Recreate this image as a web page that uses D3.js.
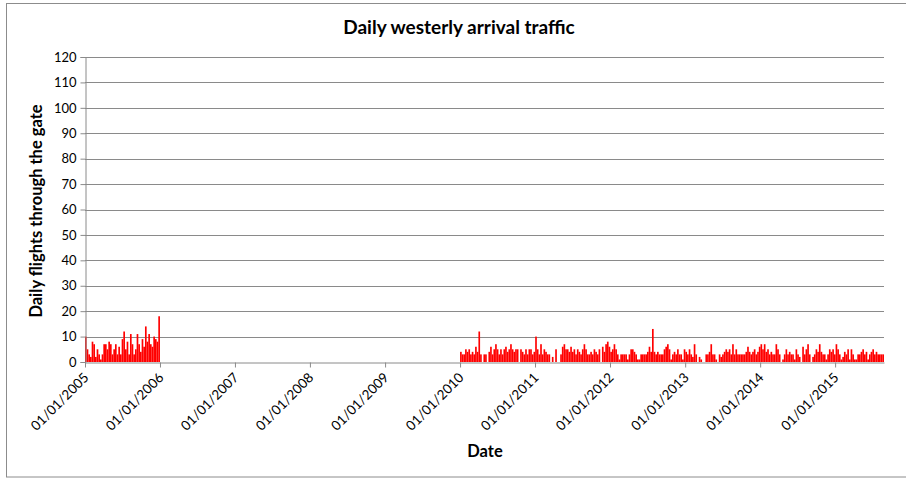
<!DOCTYPE html>
<html>
<head>
<meta charset="utf-8">
<script src="https://cdn.jsdelivr.net/npm/d3@7/dist/d3.min.js"></script>
<style>
  body { margin: 0; background: #fff; }
  text { font-family: Lato, "Open Sans", sans-serif; fill: #000; }
</style>
</head>
<body>
<div id="container"></div>
<script>
// Each series is a run of consecutive periods (peak daily flights per period)
const periods2005 = { start: "2005-01-01", end: "2006-01-01" };
const values2005 = [
  10, 5, 3, 2, 8, 7, 2, 5, 3, 1,
  3, 7, 7, 5, 8, 7, 3, 5, 7, 3,
  6, 3, 9, 12, 5, 8, 3, 11, 7, 3,
  5, 11, 7, 4, 9, 6, 14, 8, 11, 7,
  6, 10, 9, 8, 18
];

const periods2010 = { start: "2010-01-01", end: "2015-08-27" };
const values2010 = [
  4, 3, 3, 5, 4, 5, 3, 4, 3, 6,
  4, 12, 3, 0, 3, 3, 0, 4, 6, 3,
  5, 7, 5, 3, 5, 3, 5, 6, 4, 5,
  7, 5, 4, 5, 5, 0, 5, 4, 3, 5,
  3, 5, 5, 3, 4, 10, 5, 3, 7, 3,
  5, 4, 3, 3, 0, 2, 0, 5, 0, 0,
  3, 6, 7, 5, 5, 4, 6, 4, 5, 3,
  5, 4, 3, 5, 7, 5, 3, 3, 4, 3,
  5, 4, 3, 5,
  0, 6, 4, 7, 8, 6, 4, 5, 7, 5,
  3, 1, 3, 3, 3, 3, 1, 3, 5, 5,
  4, 3, 1, 1, 3, 3, 3, 3, 4, 6,
  4, 13, 4, 3, 4, 3, 3, 3, 5, 6,
  7, 5, 1, 3, 4, 3, 5, 3, 3, 1,
  5, 4, 3, 5, 3, 2, 7, 3, 0, 2,
  1, 0, 0, 3, 3, 4, 7, 3, 3, 1,
  0, 3, 2, 3, 4, 5, 4, 5, 3, 7,
  3, 5, 3, 3,
  3, 3, 3, 4, 6, 4, 3, 4, 5, 3,
  4, 6, 7, 5, 7, 4, 5, 3, 4, 3,
  3, 7, 5, 3, 0, 1, 3, 5, 3, 4,
  3, 3, 1, 5, 3, 2, 0, 6, 3, 5,
  7, 3, 0, 2, 3, 5, 4, 7, 4, 3,
  3, 1, 3, 5, 4, 5, 3, 7, 5, 3,
  1, 2, 4, 3, 5, 1, 5, 3, 1, 1,
  3, 3, 4, 5, 3, 4, 1, 3, 4, 5,
  3, 4, 3, 3, 3, 3
];

const yTicks = d3.range(0, 121, 10);
const xTickYears = d3.range(2005, 2016);
const axisRange = { start: "2005-01-01", end: "2015-08-27" };

const width = 906, height = 479;
const margin = { top: 57, right: 22, bottom: 117, left: 85 };

const parse = d3.utcParse("%Y-%m-%d");

function toBars(periods, values) {
  const s = parse(periods.start), e = parse(periods.end);
  const t = d3.scaleLinear().domain([0, values.length]).range([+s, +e]);
  return values.map((v, i) => ({
    from: new Date(t(i)),
    to: new Date(t(i + 1)),
    value: v
  }));
}

const bars = toBars(periods2005, values2005).concat(toBars(periods2010, values2010));

const svg = d3.select("#container")
  .append("svg")
    .attr("width", width)
    .attr("height", height);

// Chart border
svg.append("rect")
  .attr("x", 6.5).attr("y", 3.5)
  .attr("width", 905).attr("height", 473.5)
  .attr("fill", "none")
  .attr("stroke", "#8c8c8c");

const x = d3.scaleUtc()
  .domain([parse(axisRange.start), parse(axisRange.end)])
  .range([margin.left, width - margin.right]);

const y = d3.scaleLinear()
  .domain([0, 120])
  .range([height - margin.bottom, margin.top]);

// Gridlines
svg.append("g")
  .selectAll("line")
  .data(yTicks.filter(d => d > 0))
  .join("line")
    .attr("x1", margin.left)
    .attr("x2", width - margin.right)
    .attr("y1", d => Math.round(y(d)) + 0.5)
    .attr("y2", d => Math.round(y(d)) + 0.5)
    .attr("stroke", "#8a8a8a");

// Bars
svg.append("g")
  .selectAll("rect")
  .data(bars.filter(d => d.value > 0))
  .join("rect")
    .attr("x", d => x(d.from))
    .attr("width", d => x(d.to) - x(d.from))
    .attr("y", d => y(d.value))
    .attr("height", d => y(0) - y(d.value))
    .attr("fill", "#ff0000");

// Y axis
const yAxis = svg.append("g")
  .attr("transform", `translate(${margin.left + 0.5},0)`)
  .call(d3.axisLeft(y).tickValues(yTicks).tickSize(5).tickPadding(4));
yAxis.select(".domain").attr("stroke", "#8a8a8a");
yAxis.selectAll(".tick line").attr("stroke", "#8a8a8a");
yAxis.selectAll(".tick text")
  .attr("font-family", "Lato, sans-serif")
  .attr("font-size", 13)
  .attr("fill", "#000");

// X axis
const xAxis = svg.append("g")
  .attr("transform", `translate(0,${Math.round(y(0)) + 0.5})`)
  .call(d3.axisBottom(x)
    .tickValues(xTickYears.map(yr => new Date(Date.UTC(yr, 0, 1))))
    .tickFormat(d3.utcFormat("%d/%m/%Y"))
    .tickSize(5)
    .tickSizeOuter(0));
xAxis.select(".domain").attr("stroke", "#8a8a8a");
xAxis.selectAll(".tick line").attr("stroke", "#8a8a8a");
xAxis.selectAll(".tick text")
  .attr("font-family", "Lato, sans-serif")
  .attr("font-size", 13.5)
  .attr("fill", "#000")
  .attr("text-anchor", "end")
  .attr("dy", null)
  .attr("y", 0)
  .attr("transform", "translate(4,16) rotate(-45)");

// Titles
svg.append("text")
  .attr("x", 459).attr("y", 34)
  .attr("text-anchor", "middle")
  .attr("font-weight", "bold")
  .attr("font-size", 19)
  .text("Daily westerly arrival traffic");

svg.append("text")
  .attr("x", 485).attr("y", 457)
  .attr("text-anchor", "middle")
  .attr("font-weight", "bold")
  .attr("font-size", 16.5)
  .text("Date");

svg.append("text")
  .attr("transform", "translate(42,211) rotate(-90)")
  .attr("text-anchor", "middle")
  .attr("font-weight", "bold")
  .attr("font-size", 16.5)
  .text("Daily flights through the gate");
</script>
</body>
</html>
